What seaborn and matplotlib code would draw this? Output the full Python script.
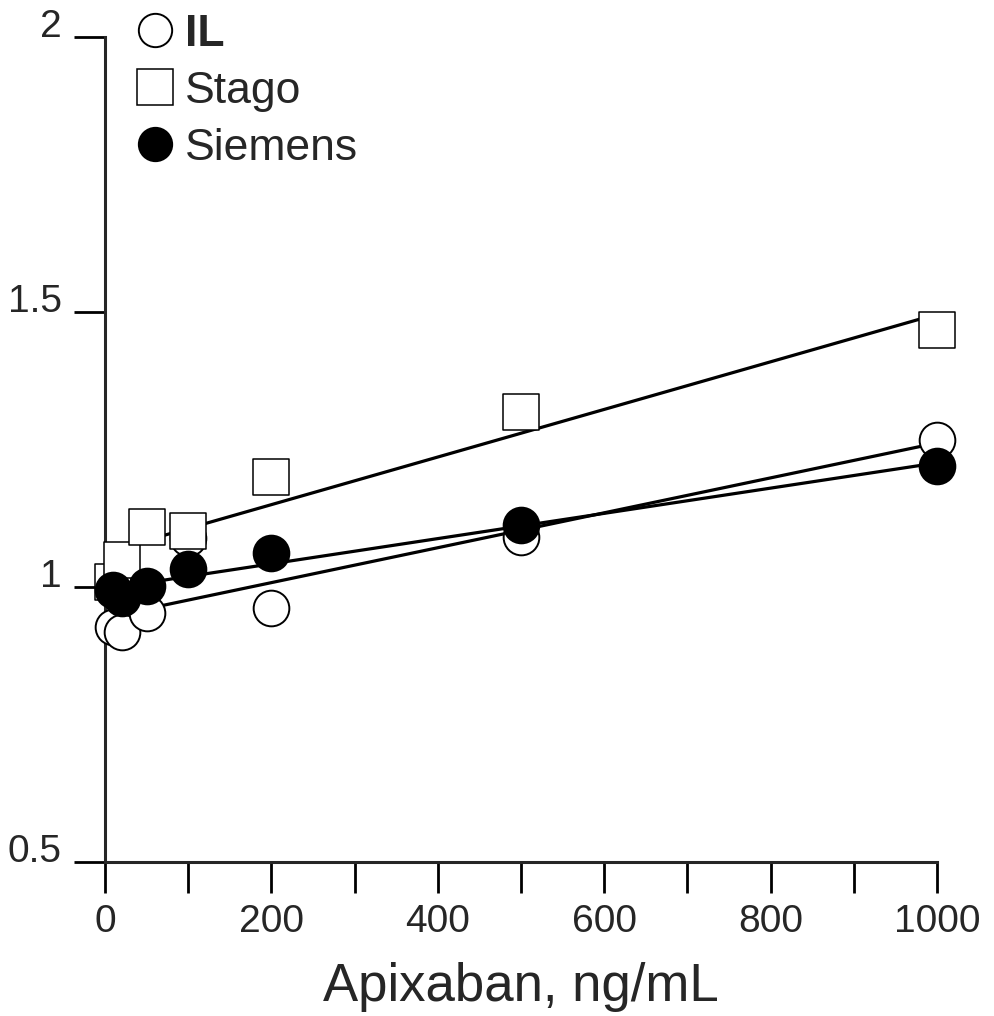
import matplotlib
matplotlib.use("Agg")
import matplotlib.pyplot as plt
from matplotlib.lines import Line2D
import seaborn as sns
import pandas as pd

# ---- data ----
apixaban = [10, 20, 50, 100, 200, 500, 1000]
il_vals = [0.927, 0.918, 0.953, 1.09, 0.962, 1.091, 1.267]
stago_vals = [1.01, 1.05, 1.109, 1.102, 1.20, 1.318, 1.467]
siemens_vals = [0.995, 0.98, 1.002, 1.033, 1.062, 1.113, 1.22]
series_names = ["IL", "Stago", "Siemens"]
x_ticks = [0, 100, 200, 300, 400, 500, 600, 700, 800, 900, 1000]
x_ticklabels = ["0", "", "200", "", "400", "", "600", "", "800", "", "1000"]
y_ticks = [0.5, 1.0, 1.5, 2.0]
y_ticklabels = ["0.5", "1", "1.5", "2"]

df = pd.DataFrame({
    "x": apixaban * 3,
    "y": il_vals + stago_vals + siemens_vals,
    "series": sum([[n] * len(apixaban) for n in series_names], []),
})

sns.set_style("ticks")
plt.rcParams["font.family"] = ["Liberation Sans", "DejaVu Sans"]

fig = plt.figure(figsize=(9.94, 10.16), dpi=100)
ax = fig.add_axes([105 / 994, 1 - 862 / 1016, (937 - 105) / 994, (862 - 37) / 1016])

styles = {
    "Stago": dict(marker="s", facecolor="white", edgecolor="black", linewidth=1.1, s=700),
    "IL": dict(marker="o", facecolor="white", edgecolor="black", linewidth=1.4, s=660),
    "Siemens": dict(marker="o", facecolor="black", edgecolor="black", linewidth=1.4, s=660),
}
draw_order = ["IL", "Stago", "Siemens"]

for name in draw_order:
    sub = df[df["series"] == name]
    sns.regplot(data=sub, x="x", y="y", ax=ax, scatter=False, ci=None,
                color="black", line_kws=dict(lw=2.3, zorder=2))

for name in draw_order:
    sub = df[df["series"] == name]
    st = styles[name]
    sns.scatterplot(data=sub, x="x", y="y", ax=ax, s=st["s"], marker=st["marker"],
                    facecolor=st["facecolor"], edgecolor=st["edgecolor"],
                    linewidth=st["linewidth"], zorder=3, clip_on=False, legend=False)

ax.set_xlim(0, 1000)
ax.set_ylim(0.5, 2.0)
ax.set_xticks(x_ticks)
ax.set_xticklabels(x_ticklabels)
ax.set_yticks(y_ticks)
ax.set_yticklabels(y_ticklabels)
ax.set_xlabel("Apixaban, ng/mL", fontsize=38, labelpad=16)
ax.set_ylabel("")

sns.despine(ax=ax)
for sp in ["left", "bottom"]:
    ax.spines[sp].set_linewidth(2.2)
ax.tick_params(axis="both", direction="out", length=22, width=2.0,
               labelsize=28, color="black")
ax.tick_params(axis="x", pad=8)
ax.tick_params(axis="y", pad=9)
for lbl in ax.get_yticklabels():
    lbl.set_verticalalignment("baseline")

handles = [
    Line2D([], [], ls="none", marker="o", markersize=24, mfc="white", mec="black", mew=1.4),
    Line2D([], [], ls="none", marker="s", markersize=26, mfc="white", mec="black", mew=1.1),
    Line2D([], [], ls="none", marker="o", markersize=24, mfc="black", mec="black", mew=1.4),
]
leg = ax.legend(handles, series_names, loc="upper left",
                bbox_to_anchor=(133 / 994, 1 - 14 / 1016), bbox_transform=fig.transFigure,
                frameon=False, fontsize=32, handlelength=1.0, handletextpad=0.17,
                labelspacing=0.36, borderpad=0, borderaxespad=0)
leg.get_texts()[0].set_fontweight("bold")

fig.savefig("out.png", dpi=100)
